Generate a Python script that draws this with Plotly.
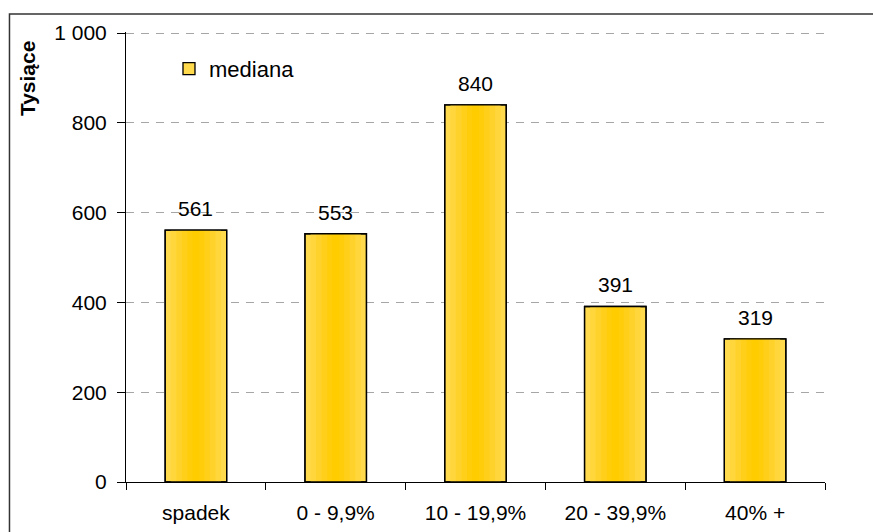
import plotly.graph_objects as go

categories = ["spadek", "0 - 9,9%", "10 - 19,9%", "20 - 39,9%", "40% +"]
mediana = [561, 553, 840, 391, 319]
y_tickvals = [0, 200, 400, 600, 800, 1000]
y_ticktext = ["0", "200", "400", "600", "800", "1 000"]
series_name = "mediana"
y_title = "Tysiące"

FONT = "Liberation Sans, Arial, sans-serif"
FS = 21

fig = go.Figure()

# gradient layers (outer light -> inner saturated)
layers = [
    (0.44, "#FFDA4D"),
    (0.36, "#FFD63C"),
    (0.28, "#FFD22B"),
    (0.20, "#FFCF1A"),
    (0.12, "#FFCD0A"),
    (0.05, "#FFCC00"),
]
for i, (w, c) in enumerate(layers):
    fig.add_trace(go.Bar(
        x=categories, y=mediana, width=w,
        marker=dict(color=c, line=dict(width=1.3 if i == 0 else 0, color="#000000")),
        name=series_name, showlegend=(i == 0), hoverinfo="skip",
    ))
# outline on top
fig.add_trace(go.Bar(
    x=categories, y=mediana, width=0.44,
    marker=dict(color="rgba(0,0,0,0)", line=dict(width=1.3, color="#000000")),
    showlegend=False, hoverinfo="skip",
))

annotations = [
    dict(x=c, y=v, xref="x", yref="y", text=str(v), showarrow=False,
         yanchor="bottom", yshift=8, font=dict(family=FONT, size=FS, color="#000"))
    for c, v in zip(categories, mediana)
]
annotations.append(dict(
    x=-0.1416, y=0.8976, xref="paper", yref="paper", text="<b>" + y_title + "</b>",
    textangle=-90, showarrow=False, xanchor="center", yanchor="middle",
    font=dict(family=FONT, size=21, color="#000"),
))

fig.update_layout(
    width=873, height=532,
    margin=dict(l=126, r=48, t=32, b=50),
    paper_bgcolor="white", plot_bgcolor="white",
    barmode="overlay",
    showlegend=True,
    legend=dict(x=0.0615, y=0.918, xanchor="left", yanchor="middle",
                font=dict(family=FONT, size=22, color="#000"),
                bgcolor="rgba(0,0,0,0)"),
    annotations=annotations,
    font=dict(family=FONT, size=FS, color="#000"),
    shapes=[dict(type="rect", xref="paper", yref="paper",
                 x0=-0.1667, x1=1.08, y0=-0.14, y1=1.04,
                 line=dict(color="#333333", width=1.5), layer="below")],
)
fig.update_xaxes(
    showline=True, linecolor="#000", linewidth=1,
    ticks="outside", tickson="boundaries", ticklen=7, tickcolor="#000",
    showgrid=False, tickfont=dict(family=FONT, size=FS, color="#000"),
    ticklabelstandoff=12, automargin=False,
)
fig.update_yaxes(
    range=[0, 1002.5], tickvals=y_tickvals, ticktext=y_ticktext,
    showline=True, linecolor="#000", linewidth=1,
    ticks="outside", ticklen=8, tickcolor="#000",
    showgrid=True, gridcolor="#A6A6A6", gridwidth=1, griddash="8px,7px",
    zeroline=False, tickfont=dict(family=FONT, size=FS, color="#000"),
    ticklabelstandoff=6, automargin=False,
)

fig.write_html("out.html", config={"displayModeBar": False},
               post_script="document.body.style.margin='0';")
